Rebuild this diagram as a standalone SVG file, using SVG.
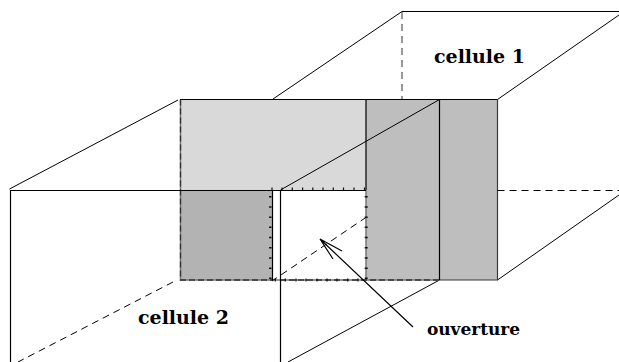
<svg xmlns="http://www.w3.org/2000/svg" width="619" height="362" viewBox="0 0 619 362">
<style>
.l{fill:none;stroke:#000;stroke-width:1}
.t{fill:none;stroke:#000;stroke-width:1.2}
.o{fill:none;stroke:#3a3a3a;stroke-width:1.2}
.d{fill:none;stroke:#000;stroke-width:1;stroke-dasharray:7 5}
.v{fill:none;stroke:#555;stroke-width:1.2;stroke-dasharray:7 5}
.g{fill:none;stroke:#777;stroke-width:1.5}
.e{fill:none;stroke:#333;stroke-width:1.3;stroke-dasharray:6 3}
.p{fill:none;stroke:#111;stroke-dasharray:1.5 8.7}
.q{fill:none;stroke:#111;stroke-width:1.2}
text{font-family:"DejaVu Serif","Liberation Serif",serif;font-weight:bold;fill:#000}
.c{font-size:19px}
.u{font-size:17px}
</style>
<g id="faces">
<rect x="180" y="99" width="186" height="91" fill="#d9d9d9"/>
<rect x="180" y="190" width="92" height="90" fill="#b3b3b3"/>
<rect x="366" y="99" width="131" height="181" fill="#bebebe"/>
</g>
<g id="connectors">
<path class="l" d="M9.5 189L178 100M273 99L402 11.5H619M497.5 99.5L619 15M497.5 280L619 195M280.5 190L439.5 99.5M439.5 280L288 362"/>
<path class="g" d="M180.5 99.5V280H439.5M366 190V280"/>
<path class="e" d="M180.5 99.5V280H272M280 280H439"/>
<path class="o" d="M439.5 280H497.5V99.5"/>
<path class="t" d="M180 99.5H497.5M439.5 99.5V280M366 99.5V190M10.5 362V190.5H366M280.5 190.5V362M272.5 190.5V280"/>
<path class="d" d="M497.5 190.5H619M173 282L18 362M366.5 217L272 281"/>
<path class="v" d="M402 12V99"/>
<path class="p" style="stroke-width:2.5" d="M270.3 196V280"/>
<path class="p" style="stroke-width:3" d="M366.2 196V280"/>
<path class="q" d="M272 187.5V190M282 187.5V190M292.3 187.5V190M302.6 187.5V190M312.8 187.5V190M323 187.5V190M333.3 187.5V190M343.5 187.5V190M354 187.5V190M364.5 187.5V190"/>
<path class="q" d="M275.3 278.5V281.5M285.3 278.5V281.5M296 278.5V281.5M306 278.5V281.5M317 278.5V281.5M327 278.5V281.5M337 278.5V281.5M347.7 278.5V281.5M358 278.5V281.5"/>
<path class="t" d="M413 327L320 239M342 251L320 239L333 259"/>
</g>
<g id="label-cellule-1"><text class="c" x="434" y="63" textLength="91">cellule 1</text></g>
<g id="label-cellule-2"><text class="c" x="138" y="324" textLength="91">cellule 2</text></g>
<g id="label-ouverture"><text class="u" x="427" y="335" textLength="93">ouverture</text></g>
</svg>
